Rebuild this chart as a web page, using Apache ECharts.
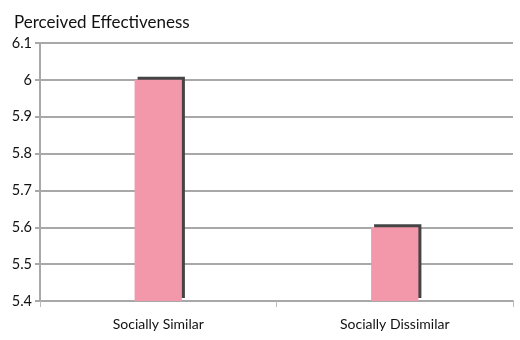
<!DOCTYPE html>
<html><head><meta charset="utf-8">
<script src="https://cdn.jsdelivr.net/npm/echarts@6/dist/echarts.min.js"></script>
<style>html,body{margin:0;padding:0;background:#fff}#c{width:520px;height:340px}</style>
</head><body><div id="c"></div>
<script>
const title = 'Perceived Effectiveness';
const categories = ['Socially Similar', 'Socially Dissimilar'];
const values = [6.0, 5.6];
const yMin = 5.4, yMax = 6.1, yStep = 0.1;

const chart = echarts.init(document.getElementById('c'), null, {renderer: 'canvas'});
chart.setOption({
  animation: false,
  title: {text: title, left: 9, top: 9,
    textStyle: {fontFamily: 'Lato', fontWeight: 'normal', fontSize: 17, color: '#111'}},
  grid: {left: 40, right: 7, top: 43, bottom: 39, containLabel: false},
  xAxis: {
    type: 'category', data: categories,
    axisLine: {lineStyle: {color: '#a8a8a8', width: 2}},
    axisTick: {show: true, length: 6, lineStyle: {color: '#bbb', width: 1}},
    axisLabel: {fontFamily: 'Lato', fontSize: 14, color: '#111', margin: 16}
  },
  yAxis: {
    type: 'value', min: yMin, max: yMax, interval: yStep,
    axisLine: {show: true, lineStyle: {color: '#a8a8a8', width: 2}},
    axisTick: {show: true, length: 5, lineStyle: {color: '#a8a8a8', width: 2}},
    splitLine: {lineStyle: {color: '#a8a8a8', width: 2}},
    axisLabel: {fontFamily: 'Lato', fontSize: 14.5, color: '#111', margin: 8,
      formatter: v => String(Math.round(v * 10) / 10)}
  },
  series: [{
    type: 'bar', data: values, barWidth: '20%',
    itemStyle: {color: '#f398aa', shadowColor: '#444', shadowOffsetX: 3, shadowOffsetY: -3, shadowBlur: 0}
  }]
});
</script></body></html>
